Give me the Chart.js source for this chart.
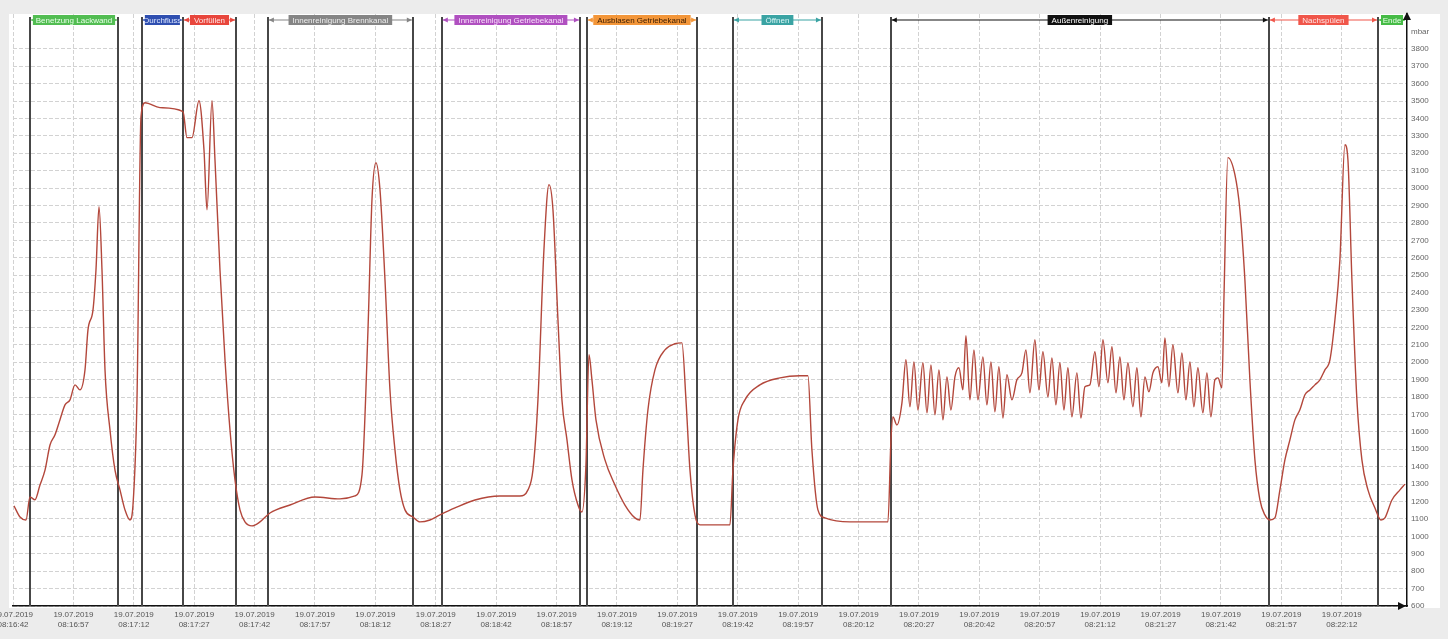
<!DOCTYPE html>
<html>
<head>
<meta charset="utf-8">
<script src="https://cdn.jsdelivr.net/npm/chart.js@4.4.0/dist/chart.umd.min.js"></script>
<style>
  html, body { margin: 0; padding: 0; background: #ececec; }
  #wrap { width: 1448px; height: 639px; }
</style>
</head>
<body>
<div id="wrap"><canvas id="pressureChart" width="1448" height="639"></canvas></div>
<script>
// seconds since 19.07.2019 08:16:42
const times = [
  0.25, 1.74, 3.23, 4.22, 5.46, 6.70, 7.95, 9.19, 10.43, 11.67, 12.91, 14.15, 15.40, 16.64, 17.88,
  18.62, 19.87, 20.61, 21.36, 22.10, 22.85, 24.09, 25.33, 26.57, 27.81, 29.05, 29.80, 30.79, 31.79,
  32.78, 36.50, 42.22, 43.21, 44.45, 46.19, 47.43, 48.18, 49.42, 50.16, 51.40, 52.65, 53.89, 55.13,
  56.37, 57.61, 59.35, 61.34, 63.82, 68.79, 75.00, 81.20, 84.93, 86.67, 88.16, 89.15, 90.14, 91.14,
  92.38, 93.62, 94.86, 96.10, 97.35, 99.33, 101.07, 103.55, 106.04, 109.76, 114.73, 120.94, 125.90,
  127.89, 129.13, 130.37, 131.86, 133.11, 134.10, 135.34, 136.33, 137.58, 138.82, 140.31, 141.30,
  142.29, 143.04, 143.78, 144.78, 147.01, 149.49, 151.98, 154.46, 155.70, 156.45, 157.69, 159.43,
  161.91, 164.39, 166.13, 167.13, 168.12, 169.36, 170.60, 174.33, 178.05, 178.80, 180.04, 181.78,
  185.50, 190.47, 195.43, 197.42, 198.41, 199.90, 201.64, 207.85, 217.29, 218.04, 218.53, 219.52,
  220.77, 221.76, 222.75, 223.75, 224.74, 225.98, 226.98, 227.97, 228.96, 229.96, 230.95, 231.94,
  232.93, 233.93, 234.92, 235.91, 236.66, 237.65, 238.65, 239.64, 240.88, 241.87, 242.87, 243.86,
  244.85, 245.85, 246.84, 248.08, 249.32, 250.57, 251.56, 252.55, 253.79, 254.79, 255.78, 257.02,
  258.02, 259.01, 260.00, 261.00, 261.99, 262.98, 264.22, 265.21, 266.21, 267.45, 268.69, 269.69,
  270.68, 271.92, 272.92, 273.91, 274.90, 275.90, 276.89, 278.13, 279.12, 280.12, 281.11, 282.10,
  283.10, 284.34, 285.33, 286.08, 287.07, 288.06, 289.31, 290.30, 291.29, 292.29, 293.28, 294.27,
  295.51, 296.51, 297.50, 298.49, 299.24, 300.23, 300.73, 301.72, 303.46, 304.70, 305.94, 307.18,
  308.43, 309.67, 310.91, 312.15, 313.39, 314.64, 315.88, 317.12, 318.36, 319.60, 320.85, 322.09,
  323.33, 324.57, 325.81, 327.06, 328.30, 329.54, 330.78, 331.53, 332.52, 333.76, 335.00, 336.50,
  338.24, 339.73, 340.72, 342.46, 344.45, 345.69
];

// mbar
const pressure = [
  1175, 1111, 1094, 1226, 1210, 1295, 1380, 1525, 1583, 1670, 1755, 1784, 1870, 1841, 1956,
  2186, 2301, 2531, 2893, 2531, 1956, 1611, 1380, 1267, 1152, 1094, 1180, 1784, 3410,
  3490, 3462, 3440, 3290, 3290, 3502, 3220, 2876, 3502, 3163, 2531, 2014, 1611, 1324,
  1152, 1083, 1060, 1083, 1134, 1180, 1226, 1215, 1232, 1353, 2186, 2933, 3146, 2991,
  2474, 1841, 1497, 1267, 1152, 1111, 1083, 1094, 1123, 1163, 1209, 1232, 1232,
  1267, 1382, 1784, 2646, 3020, 2876, 2244, 1784, 1554, 1324, 1180, 1140,
  1410, 2043, 1899, 1669, 1439, 1295, 1180, 1106, 1094, 1382, 1727, 1956,
  2071, 2106, 2111, 1784, 1382, 1123, 1066, 1066, 1066, 1382, 1669, 1784,
  1870, 1910, 1922, 1922, 1497, 1152, 1106, 1083, 1083, 1554, 1686, 1640,
  1767, 2014, 1744, 2002, 1726, 1997, 1709, 1985, 1698, 1956, 1669, 1916,
  1726, 1916, 1968, 1841, 2152, 1784, 2071, 1784, 2031, 1755, 2002, 1715,
  1974, 1680, 1928, 1784, 1899, 1939, 2071, 1824, 2129, 1841, 2060, 1801,
  2025, 1755, 1997, 1726, 1968, 1686, 1939, 1680, 1859, 1870, 2060, 1859,
  2129, 1882, 2089, 1824, 2031, 1784, 1997, 1744, 1968, 1686, 1916, 1830,
  1939, 1974, 1882, 2140, 1859, 2100, 1824, 2054, 1784, 2002, 1744, 1968,
  1709, 1939, 1686, 1899, 1910, 1853, 2359, 3175, 3077, 2876, 2474, 1899,
  1439, 1209, 1123, 1094, 1106, 1267, 1439, 1554, 1669, 1727, 1813, 1841,
  1870, 1899, 1956, 2014, 2244, 2589, 3249, 3163, 2474, 1784, 1439, 1267,
  1163, 1094, 1106, 1209, 1267, 1300
];

// process phases (seconds)
const phaseNames  = ['Benetzung Lackwand', 'Durchfluss', 'Vorfüllen', 'Innenreinigung Brennkanal',
  'Innenreinigung Getriebekanal', 'Ausblasen Getriebekanal', 'Öffnen', 'Außenreinigung', 'Nachspülen', 'Ende'];
const phaseStart  = [4.2, 32.0, 42.2, 63.3, 106.5, 142.5, 178.8, 218.0, 311.9, 339.0];
const phaseEnd    = [26.1, 42.2, 55.4, 99.3, 140.8, 169.9, 200.9, 311.9, 339.0, 346.2];
const phaseColors = ['#52bd52', '#2f4fb0', '#e8463c', '#858585', '#b050c0', '#f39639', '#3aa3a3', '#111111', '#f0564a', '#46bb46'];
const phaseText   = ['#e6ffe6', '#dde6ff', '#ffe4e4', '#eeeeee', '#f8e0fa', '#3a1c00', '#d8f6f6', '#ffffff', '#ffe4e4', '#e6ffe6'];

const dateText = '19.07.2019';
const baseSeconds = 8 * 3600 + 16 * 60 + 42;
const yMin = 600, yMax = 4000;
const xMax = 346.2;

function timeLabel(sec) {
  const t = Math.round(baseSeconds + sec);
  const pad = n => String(n).padStart(2, '0');
  return [dateText, pad(Math.floor(t / 3600)) + ':' + pad(Math.floor(t / 60) % 60) + ':' + pad(t % 60)];
}

function arrowHead(ctx, x, y, dir, size) {
  // dir: 'left' | 'right' | 'up'
  ctx.beginPath();
  if (dir === 'right') { ctx.moveTo(x, y); ctx.lineTo(x - size, y - size / 2); ctx.lineTo(x - size, y + size / 2); }
  if (dir === 'left')  { ctx.moveTo(x, y); ctx.lineTo(x + size, y - size / 2); ctx.lineTo(x + size, y + size / 2); }
  if (dir === 'up')    { ctx.moveTo(x, y); ctx.lineTo(x - size / 2, y + size); ctx.lineTo(x + size / 2, y + size); }
  ctx.closePath();
  ctx.fill();
}

// gray frame + white plot background
const backgroundPlugin = {
  id: 'background',
  beforeDraw(chart) {
    const { ctx, chartArea } = chart;
    ctx.save();
    ctx.fillStyle = '#ececec';
    ctx.fillRect(0, 0, chart.width, chart.height);
    ctx.fillStyle = '#ffffff';
    ctx.fillRect(chartArea.left - 4, chartArea.top, chart.width - chartArea.left - 4, chartArea.bottom - chartArea.top + 2);
    ctx.restore();
  }
};

// vertical phase separators and the labelled brackets on top
const phasePlugin = {
  id: 'phases',
  beforeDatasetsDraw(chart) {
    const { ctx, chartArea, scales: { x } } = chart;
    ctx.save();
    ctx.strokeStyle = '#474747';
    ctx.lineWidth = 2;
    phaseStart.forEach((s, i) => {
      [s, phaseEnd[i]].forEach(v => {
        const px = Math.round(x.getPixelForValue(v));
        if (px > chartArea.right - 4) return;
        ctx.beginPath();
        ctx.moveTo(px, chartArea.top + 3);
        ctx.lineTo(px, chartArea.bottom);
        ctx.stroke();
      });
    });
    ctx.restore();
  },
  afterDatasetsDraw(chart) {
    const { ctx, scales: { x } } = chart;
    const by = 20;
    ctx.save();
    ctx.font = '8px "Liberation Sans", Arial, sans-serif';
    ctx.textAlign = 'center';
    ctx.textBaseline = 'middle';
    phaseNames.forEach((name, i) => {
      const x0 = x.getPixelForValue(phaseStart[i]);
      const x1 = Math.min(x.getPixelForValue(phaseEnd[i]), chart.chartArea.right - 1);
      ctx.strokeStyle = phaseColors[i];
      ctx.fillStyle = phaseColors[i];
      ctx.lineWidth = 1.2;
      ctx.beginPath();
      ctx.moveTo(x0 + 1, by);
      ctx.lineTo(x1 - 1, by);
      ctx.stroke();
      arrowHead(ctx, x0 + 1, by, 'left', 5);
      arrowHead(ctx, x1 - 1, by, 'right', 5);
      const w = Math.min(ctx.measureText(name).width + 8, x1 - x0 - 6);
      const cx = (x0 + x1) / 2;
      ctx.fillRect(cx - w / 2, by - 5, w, 10);
      ctx.save();
      ctx.beginPath();
      ctx.rect(cx - w / 2, by - 5, w, 10);
      ctx.clip();
      ctx.fillStyle = phaseText[i];
      ctx.fillText(name, cx, by + 0.5);
      ctx.restore();
    });
    ctx.restore();
  },
  afterDraw(chart) {
    const { ctx, chartArea } = chart;
    ctx.save();
    ctx.fillStyle = '#111';
    arrowHead(ctx, chartArea.right - 1, chartArea.bottom, 'right', 8);
    arrowHead(ctx, chartArea.right, chartArea.top - 2, 'up', 8);
    ctx.restore();
  }
};

const gridColor = '#d2d2d2';

const chart = new Chart(document.getElementById('pressureChart'), {
  type: 'line',
  data: {
    datasets: [{
      label: 'Druck',
      data: times.map((t, i) => ({ x: t, y: pressure[i] })),
      borderColor: '#b3473b',
      borderWidth: 1.4,
      pointRadius: 0,
      cubicInterpolationMode: 'monotone',
      fill: false
    }]
  },
  options: {
    responsive: false,
    devicePixelRatio: 1,
    animation: false,
    layout: { padding: { left: 13, top: 14, right: 0, bottom: 0 } },
    plugins: { legend: { display: false }, tooltip: { enabled: false } },
    scales: {
      x: {
        type: 'linear',
        min: 0,
        max: xMax,
        afterFit(s) { s.height = 33; s.paddingLeft = 0; s.paddingRight = 0; },
        ticks: {
          stepSize: 15,
          includeBounds: false,
          autoSkip: false,
          maxRotation: 0,
          padding: 4,
          color: '#555',
          font: { family: '"Liberation Sans", Arial, sans-serif', size: 8 },
          callback: v => (v > 335 ? '' : timeLabel(v))
        },
        grid: {
          color: ctx => (ctx.tick && ctx.tick.value > 335 ? 'rgba(0,0,0,0)' : gridColor),
          drawTicks: false,
          lineWidth: 1
        },
        border: { display: true, color: '#111', width: 1.5, dash: [4, 2] }
      },
      y: {
        position: 'right',
        min: yMin,
        max: yMax,
        afterFit(s) { s.width = 41; s.paddingTop = 0; s.paddingBottom = 0; },
        ticks: {
          stepSize: 100,
          padding: 4,
          color: '#666',
          font: { family: '"Liberation Sans", Arial, sans-serif', size: 8 },
          callback: v => (v === 3900 ? 'mbar' : (v > 3800 ? '' : String(v)))
        },
        grid: {
          color: ctx => (ctx.tick && ctx.tick.value > 3800 ? 'rgba(0,0,0,0)' : gridColor),
          drawTicks: false,
          lineWidth: 1
        },
        border: { display: true, color: '#111', width: 1.5, dash: [4, 2] }
      }
    }
  },
  plugins: [backgroundPlugin, phasePlugin]
});
</script>
</body>
</html>
